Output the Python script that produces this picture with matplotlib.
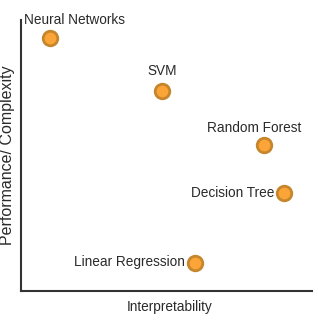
import matplotlib
matplotlib.use("Agg")
import matplotlib.pyplot as plt

plt.rcParams['font.family'] = ['Liberation Sans', 'DejaVu Sans']

models = ['Neural Networks', 'SVM', 'Random Forest', 'Decision Tree', 'Linear Regression']
interpretability = [1.0, 4.85, 8.35, 9.04, 5.98]
performance = [9.34, 7.38, 5.39, 3.62, 1.03]

# label placement (pixel offsets, alignment)
label_offsets = [(24, 18), (0, 20), (-10, 17), (-10, 0), (-10, 1)]
label_ha = ['center', 'center', 'center', 'right', 'right']

fig = plt.figure(figsize=(3.18, 3.26), dpi=100)
ax = fig.add_axes([21 / 318, 35 / 326, 291 / 318, 271 / 326])

ax.scatter(interpretability, performance, s=110, color='#FBA437',
           edgecolor='#C6862C', linewidth=2, zorder=3)

for name, x, y, off, ha in zip(models, interpretability, performance, label_offsets, label_ha):
    ax.annotate(name, (x, y), xytext=off, textcoords='offset pixels',
                ha=ha, va='center', fontsize=9.8, color='#2a2a2a')

ax.set_xlim(0, 10)
ax.set_ylim(0, 10)
ax.set_xticks([])
ax.set_yticks([])
for side in ['top', 'right']:
    ax.spines[side].set_visible(False)
for side in ['left', 'bottom']:
    ax.spines[side].set_color('#333333')
    ax.spines[side].set_linewidth(1.5)

ax.set_xlabel('Interpretability', fontsize=9.8, color='#2a2a2a')
ax.xaxis.set_label_coords(0.51, -0.035, transform=ax.transAxes)
ax.xaxis.label.set_va('top')
ax.set_ylabel('Performance/ Complexity', fontsize=11.5, color='#2a2a2a', labelpad=4)

fig.savefig('out.png', dpi=100)
